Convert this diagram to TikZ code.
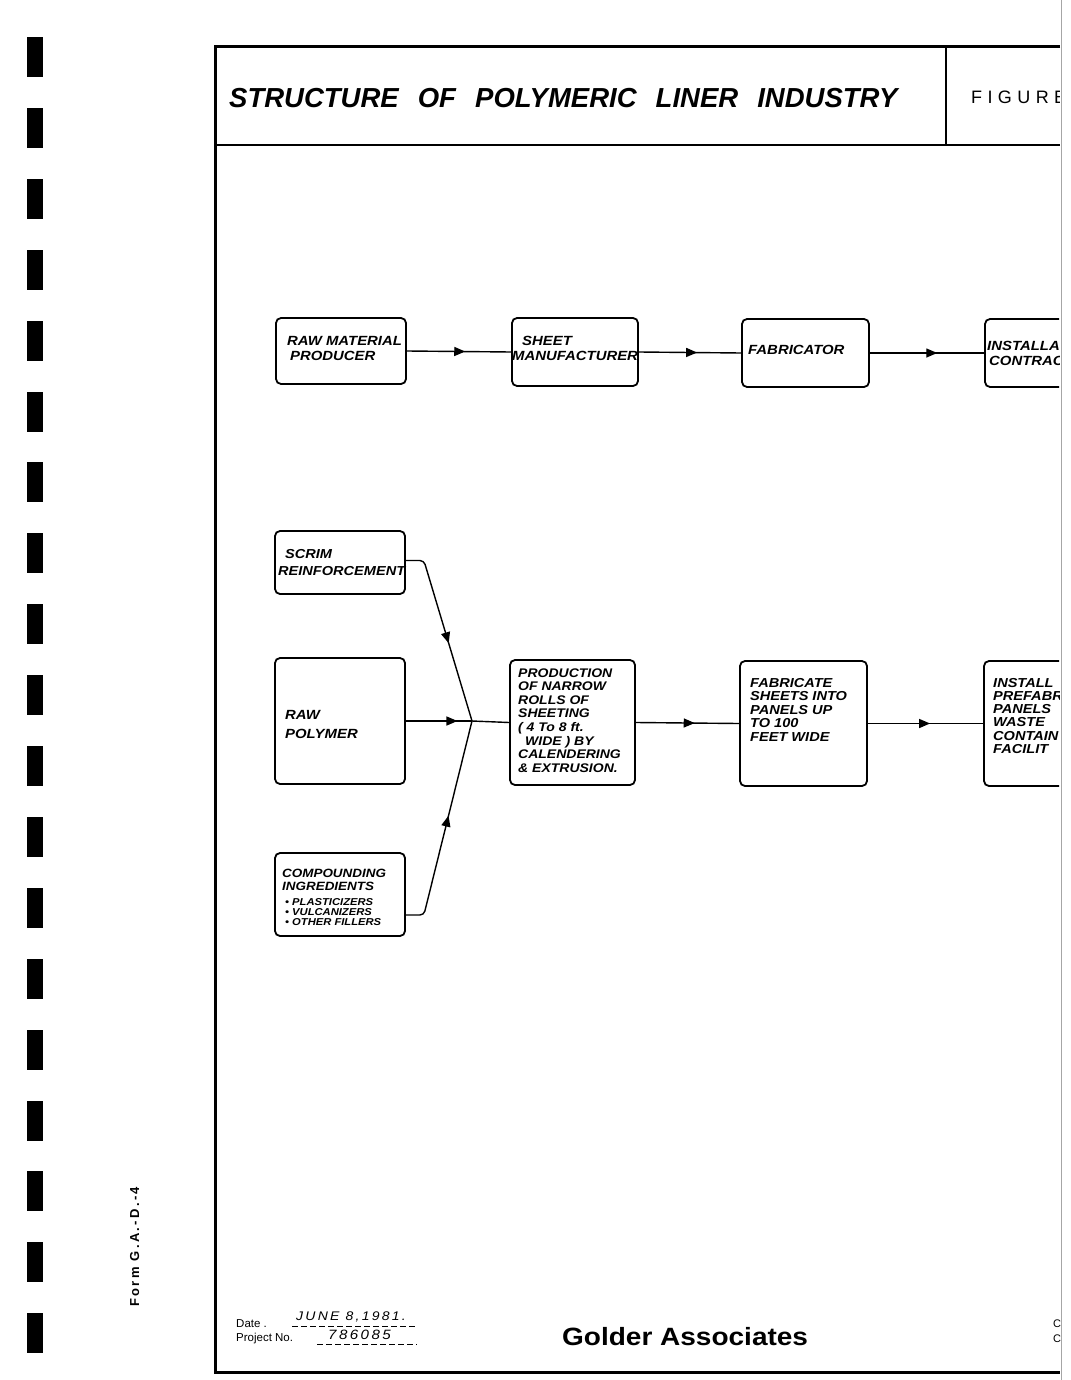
\documentclass[tikz,border=0pt]{standalone}
\usepackage{fontspec}
\setmainfont{Liberation Sans}
\newfontfamily\titlefont[WordSpace=2.5]{Liberation Sans}
\newfontfamily\boxfont[FakeStretch=1.12]{Liberation Sans}
\newfontfamily\figfont[LetterSpace=30]{Liberation Sans}
\newfontfamily\footfont[FakeStretch=1.12,LetterSpace=18]{Liberation Sans}
\newfontfamily\formfont[LetterSpace=18]{Liberation Sans}
\usetikzlibrary{arrows.meta,decorations.markings}
\newcommand{\mlines}[3]{\parbox[t]{200pt}{\boxfont\bfseries\itshape\fontsize{#1}{#2}\selectfont #3}}
\tikzset{
  flowbox/.style={draw, line width=1.8pt, rounded corners=5pt, inner sep=0pt},
  lbl/.style={anchor=base west, inner sep=0pt},
  link/.style={line width=1.4pt},
  flow/.style={line width=1.4pt, postaction={decorate},
    decoration={markings, mark=at position #1 with {\arrow{Triangle[length=11pt,width=9pt]}}}},
  flow/.default=0.56,
  frameline/.style={line width=3pt},
}
\begin{document}
\begin{tikzpicture}[x=1pt,y=-1pt]
\useasboundingbox (0,0) rectangle (1070,1380);
\fill[white] (0,0) rectangle (1070,1380);

% binder holes
\foreach \i in {0,...,18}{
  \fill[black] (27,37+70.9*\i) rectangle (43,77+70.9*\i);
}
% page edge
\draw[gray!70, line width=1pt] (1061,0) -- (1061,1380);

% frame
\draw[frameline] (1060,47) -- (215,47) -- (215,1372) -- (1060,1372);
\draw[line width=2.6pt] (215,145) -- (1060,145);
\draw[line width=2.4pt] (946,47) -- (946,145);

\node[lbl, font=\titlefont\bfseries\itshape\fontsize{27.5}{30}\selectfont] (title) at (229,108) {STRUCTURE OF POLYMERIC LINER INDUSTRY};

\begin{scope}
\clip (0,0) rectangle (1059,1380);
\node[lbl, font=\figfont\fontsize{18}{20}\selectfont] (figure) at (971,104) {FIGURE};

% row 1 boxes
\node[flowbox, minimum width=130pt, minimum height=66pt] (rmp) at (341,351) {};
\node[flowbox, minimum width=126pt, minimum height=68pt] (sm) at (575,352) {};
\node[flowbox, minimum width=127pt, minimum height=68pt] (fab) at (805.5,353) {};
\node[flowbox, minimum width=120pt, minimum height=68pt] (ic) at (1045,353) {};

% row 2 boxes
\node[flowbox, minimum width=130pt, minimum height=63pt] (scrim) at (340,562.5) {};
\node[flowbox, minimum width=130pt, minimum height=126pt] (rp) at (340,721) {};
\node[flowbox, minimum width=130pt, minimum height=83pt] (ci) at (340,894.5) {};
\node[flowbox, minimum width=125pt, minimum height=125pt] (prod) at (572.5,722.5) {};
\node[flowbox, minimum width=127pt, minimum height=125pt] (fabp) at (803.5,723.5) {};
\node[flowbox, minimum width=120pt, minimum height=125pt] (inst) at (1044,723.5) {};

% labels
\node[lbl] (trmp) at (287,345) {\mlines{13.3}{15}{RAW MATERIAL\\\hspace*{3pt}PRODUCER}};
\node[lbl] (tsm) at (512,345) {\mlines{13.3}{15}{\hspace*{10pt}SHEET\\MANUFACTURER}};
\node[lbl] (tfab) at (748,354) {\mlines{13.3}{15}{FABRICATOR}};
\node[lbl] (tic) at (987,350) {\mlines{13.3}{15}{INSTALLA\\\hspace*{2pt}CONTRAC}};

\node[lbl] (tscrim) at (278,558) {\mlines{13}{17}{\hspace*{7pt}SCRIM\\REINFORCEMENT}};
\node[lbl] (trp) at (285,719) {\mlines{13.3}{19}{RAW\\POLYMER}};
\node[lbl] (tci) at (282,877) {\mlines{12}{13}{COMPOUNDING\\INGREDIENTS}};
\node[lbl] (tcib) at (285,905) {\mlines{10}{10}{\textbullet\ PLASTICIZERS\\\textbullet\ VULCANIZERS\\\textbullet\ OTHER FILLERS}};
\node[lbl] (tprod) at (518,677) {\mlines{12.5}{13.6}{PRODUCTION\\OF NARROW\\ROLLS OF\\SHEETING\\( 4 To 8 ft.\\\hspace*{7pt}WIDE ) BY\\CALENDERING\\\& EXTRUSION.}};
\node[lbl] (tfabp) at (750,687) {\mlines{13}{13.5}{FABRICATE\\SHEETS INTO\\PANELS UP\\TO 100\\FEET WIDE}};
\node[lbl] (tinst) at (993,687) {\mlines{13}{13.3}{INSTALL\\PREFABR\\PANELS\\WASTE\\CONTAIN\\FACILIT}};

% connectors
\draw[flow=0.56] (rmp.east) -- (sm.west);
\draw[flow=0.57] (sm.east) -- (fab.west);
\draw[flow=0.59] (fab.east) -- (ic.west);

\coordinate (J) at (472,721);
\draw[flow=0.56, rounded corners=4pt] ([yshift=2pt]scrim.east) -- ++(18,0) -- (J);
\draw[flow=0.78] (rp.east) -- (J);
\draw[flow=0.55, rounded corners=4pt] ([yshift=-20.5pt]ci.east) -- ++(18,0) -- (J);
\draw[link] (J) -- (prod.west);
\draw[flow=0.57] (prod.east) -- (fabp.west);
\draw[flow=0.54] (fabp.east) -- (inst.west);
\end{scope}

% footer
\node[lbl, font=\fontsize{11.5}{13}\selectfont] (date) at (236,1327) {Date .};
\node[lbl, font=\footfont\itshape\fontsize{12.5}{14}\selectfont] (dateval) at (296,1320) {JUNE 8,1981.};
\draw[dash pattern=on 6pt off 3pt, line width=0.9pt] (292,1326) -- (417,1326);
\node[lbl, font=\fontsize{11.5}{13}\selectfont] (proj) at (236,1341) {Project No.};
\node[lbl, font=\footfont\itshape\fontsize{13.5}{14}\selectfont] (projval) at (328,1339) {786085};
\draw[dash pattern=on 6pt off 3pt, line width=0.9pt] (317,1344) -- (417,1344);
\node[lbl, font=\boxfont\bfseries\fontsize{25}{28}\selectfont] (golder) at (562,1345) {Golder Associates};
\node[lbl, font=\fontsize{11}{12}\selectfont] (cc1) at (1053,1327) {C};
\node[lbl, font=\fontsize{11}{12}\selectfont] (cc2) at (1053,1342) {C};

% form label
\node[lbl, rotate=90, font=\formfont\bfseries\fontsize{13}{14}\selectfont] (form) at (139,1307) {Form G.A.-D.-4};
\end{tikzpicture}
\end{document}
